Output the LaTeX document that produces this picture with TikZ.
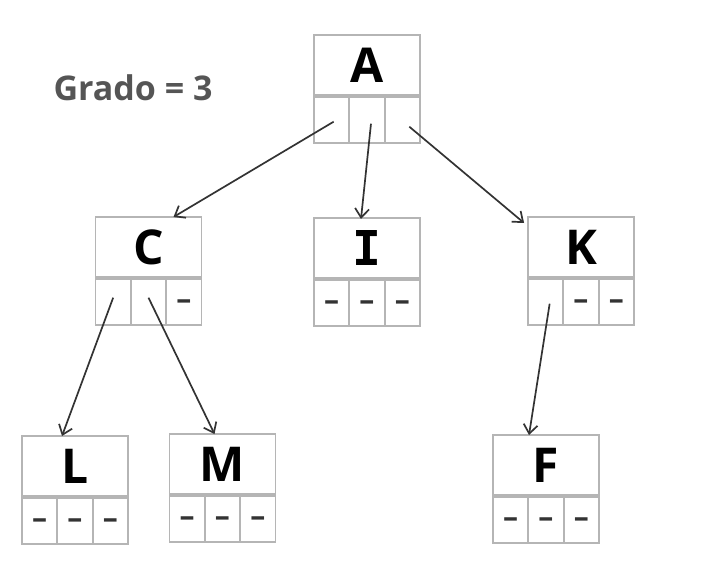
\documentclass[tikz,border=0pt]{standalone}
\usepackage{fontspec}
\setmainfont{Open Sans}
\newfontfamily\lettfont{Open Sans}
\newfontfamily\labfont{Open Sans}
\newfontfamily\ifont{DejaVu Sans Mono}
\usetikzlibrary{arrows.meta}
\definecolor{boxgray}{HTML}{B5B5B5}
\definecolor{arrowgray}{HTML}{333333}
\definecolor{labgray}{HTML}{555555}
\tikzset{
  keybox/.style={draw=boxgray, line width=1.8pt, minimum width=106pt, minimum height=60pt,
    inner sep=0pt, anchor=north, font=\lettfont\bfseries\fontsize{48}{48}\selectfont, text=black},
  cellbox/.style={draw=boxgray, line width=1.8pt, minimum width=35.33pt, minimum height=46pt,
    inner sep=0pt},
  nullmark/.style={inner sep=0pt, anchor=base, font=\lettfont\bfseries\fontsize{30}{30}\selectfont, text=arrowgray},
  link/.style={draw=arrowgray, line width=1.7pt, -{Straight Barb[length=9pt,width=14pt,line width=1.7pt]}},
}
\newcommand{\treenode}[4]{%
  \node[keybox] (#1) at (#2,#3) {#4};
  \node[cellbox, anchor=north west] (#11) at (#1.south west) {};
  \node[cellbox, anchor=west] (#12) at ([xshift=-1.8pt]#11.east) {};
  \node[cellbox, anchor=west] (#13) at ([xshift=-1.8pt]#12.east) {};
}
\newcommand{\nullin}[1]{\node[nullmark] (#1d) at ([yshift=-8pt]#1.center) {–};}
\begin{document}
\begin{tikzpicture}[x=1pt,y=-1pt]
\useasboundingbox (0,0) rectangle (724,570);
\node[font=\labfont\bfseries\fontsize{34}{34}\selectfont, text=labgray, anchor=west] (grado) at (50,88) {Grado = 3};

\treenode{A}{367}{34}{A}
\treenode{C}{148.5}{216}{C}
\nullin{C3}
\treenode{I}{367}{217}{\ifont I}
\nullin{I1}\nullin{I2}\nullin{I3}
\treenode{K}{581}{216}{K}
\nullin{K2}\nullin{K3}
\treenode{L}{75}{435}{L}
\nullin{L1}\nullin{L2}\nullin{L3}
\treenode{M}{222.5}{433}{M}
\nullin{M1}\nullin{M2}\nullin{M3}
\treenode{F}{546}{434}{F}
\nullin{F1}\nullin{F2}\nullin{F3}

\draw[link] ([xshift=2pt,yshift=-2pt]A1.center) -- ([xshift=25pt,yshift=-1pt]C.north);
\draw[link] ([xshift=4pt,yshift=-4pt]A2.center) -- ([xshift=-6pt,yshift=-2pt]I.north);
\draw[link] ([xshift=7pt,yshift=-7pt]A3.center) -- ([xshift=-3pt,yshift=-7pt]K.north west);
\draw[link] ([yshift=4pt]C1.center) -- ([xshift=-13pt,yshift=-1pt]L.north);
\draw[link] ([yshift=4pt]C2.center) -- ([xshift=-8pt,yshift=-1pt]M.north);
\draw[link] ([xshift=4pt,yshift=-2pt]K1.center) -- ([xshift=-17pt,yshift=-1pt]F.north);
\end{tikzpicture}
\end{document}
